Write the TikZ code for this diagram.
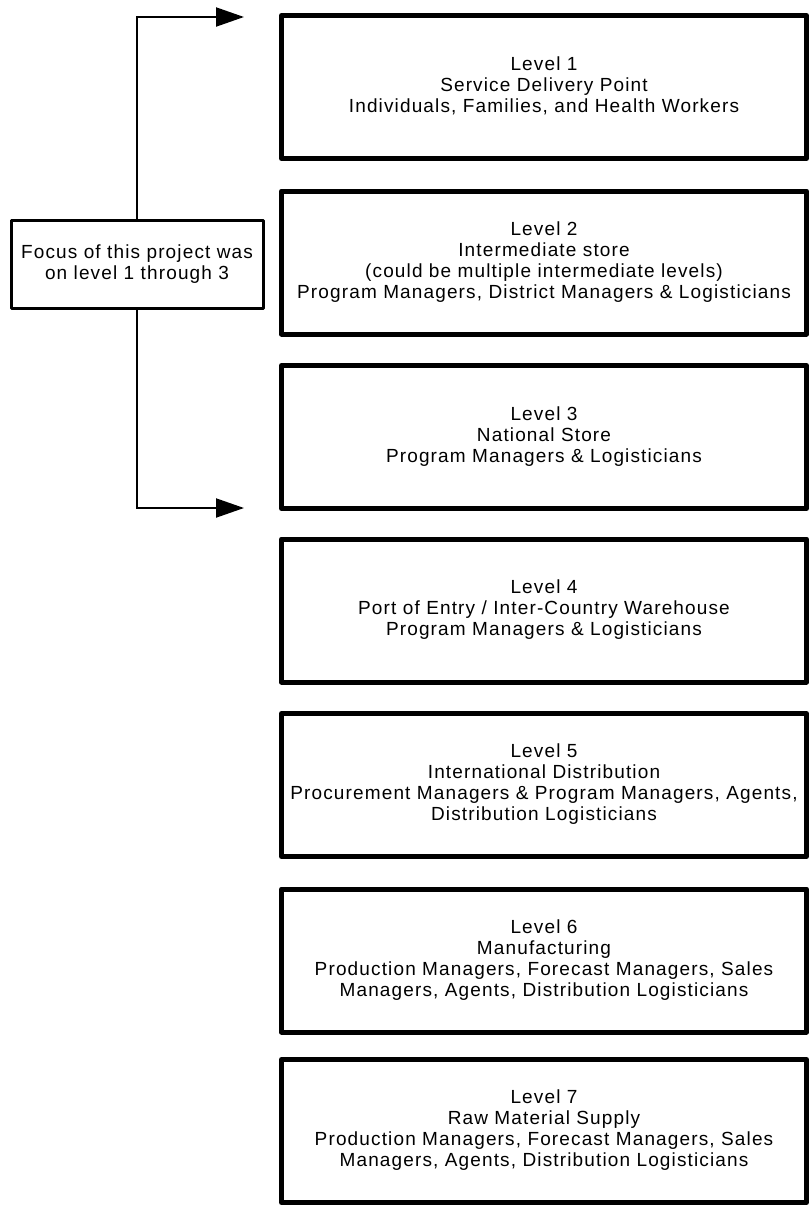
\documentclass[tikz,border=0pt]{standalone}
\usepackage{fontspec}
\setmainfont{Liberation Sans}[LetterSpace=6]
\usetikzlibrary{arrows.meta}
% centred stack of lines, lifted slightly within its box
\newcommand{\boxlines}[1]{\raisebox{2pt}{\begin{tabular}{@{}c@{}}#1\end{tabular}}}
\begin{document}
\begin{tikzpicture}[x=1pt,y=-1pt,
  boxtext/.style={font=\fontsize{19}{21}\selectfont},
  levelbox/.style={draw,line width=5pt,line join=round,minimum width=525pt,minimum height=143pt,
    inner sep=0pt,boxtext},
  notebox/.style={draw,line width=3pt,line join=round,minimum width=252pt,minimum height=88pt,
    inner sep=0pt,boxtext},
  bracket/.style={line width=2pt,-{Triangle[length=28pt,width=19pt]}}]
\useasboundingbox (0,0) rectangle (809,1205);

% supply chain levels, top to bottom
\node[levelbox] (l1) at (544,87) {\boxlines{Level 1\\Service Delivery Point\\Individuals, Families, and Health Workers}};
\node[levelbox] (l2) at (544,262.5) {\boxlines{Level 2\\Intermediate store\\(could be multiple intermediate levels)\\Program Managers, District Managers \& Logisticians}};
\node[levelbox] (l3) at (544,437) {\boxlines{Level 3\\National Store\\Program Managers \& Logisticians}};
\node[levelbox] (l4) at (544,610.5) {\boxlines{Level 4\\Port of Entry / Inter-Country Warehouse\\Program Managers \& Logisticians}};
\node[levelbox] (l5) at (544,785) {\boxlines{Level 5\\International Distribution\\Procurement Managers \& Program Managers, Agents,\\Distribution Logisticians}};
\node[levelbox] (l6) at (544,960.5) {\boxlines{Level 6\\Manufacturing\\Production Managers, Forecast Managers, Sales\\Managers, Agents, Distribution Logisticians}};
\node[levelbox] (l7) at (544,1131) {\boxlines{Level 7\\Raw Material Supply\\Production Managers, Forecast Managers, Sales\\Managers, Agents, Distribution Logisticians}};

% scope note with bracket arrows to levels 1 and 3
\node[notebox] (focus) at (137,264.5) {\boxlines{Focus of this project was\\on level 1 through 3}};
\coordinate (toptip) at (244,17);
\coordinate (bottip) at (244,508);
\draw[bracket] (focus.north) |- (toptip);
\draw[bracket] (focus.south) |- (bottip);
\end{tikzpicture}
\end{document}
